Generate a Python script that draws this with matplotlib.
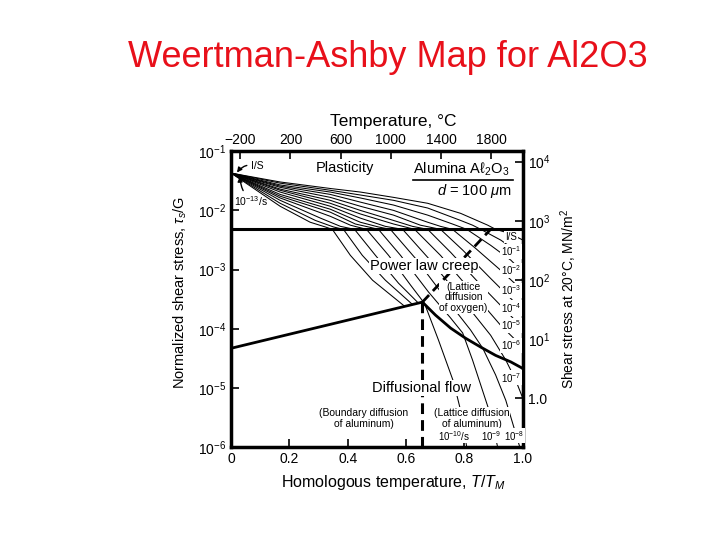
import matplotlib.pyplot as plt
from matplotlib.lines import Line2D
from matplotlib.ticker import FixedLocator, NullLocator

plt.rcParams['font.family'] = ['Liberation Sans', 'DejaVu Sans']
plt.rcParams['mathtext.fontset'] = 'custom'
plt.rcParams['mathtext.rm'] = 'Liberation Sans'
plt.rcParams['mathtext.it'] = 'Liberation Sans:italic'
plt.rcParams['mathtext.bf'] = 'Liberation Sans:bold'

TM = 2323.0   # melting point of alumina, K
G = 1.5e5     # shear modulus, MN/m^2

# field boundaries, x = T/TM, y = log10(tau_s/G)
plast_limit = -2.32
lower_x = [0.0, 0.656]
lower_y = [-4.33, -3.55]
curve_x = [0.656, 0.701, 0.753, 0.804, 0.856, 0.907, 0.959, 1.0]
curve_y = [-3.55, -3.77, -3.99, -4.16, -4.31, -4.45, -4.56, -4.67]
dash_x = [0.656, 0.890]
dash_y = [-3.55, -2.32]
vdash_x = [0.656, 0.656]
vdash_y = [-3.55, -6.0]

# strain-rate contours 1/s ... 1e-13/s, points (T/TM, log10 tau_s/G)
c00 = [(0, -1.37), (0.168, -1.52), (0.340, -1.63), (0.443, -1.69), (0.557, -1.78), (0.674, -1.88),
       (0.787, -2.05), (0.880, -2.25), (0.907, -2.32), (0.942, -2.37), (0.976, -2.44), (1.0, -2.50)]
c01 = [(0, -1.37), (0.168, -1.54), (0.340, -1.66), (0.443, -1.74), (0.557, -1.83), (0.674, -1.96),
       (0.787, -2.17), (0.828, -2.25), (0.856, -2.32), (0.924, -2.50), (1.0, -2.76)]
c02 = [(0, -1.37), (0.168, -1.57), (0.340, -1.69), (0.443, -1.79), (0.557, -1.91), (0.674, -2.08),
       (0.759, -2.23), (0.808, -2.32), (0.890, -2.59), (0.959, -2.84), (1.0, -3.04)]
c03 = [(0, -1.37), (0.168, -1.59), (0.340, -1.73), (0.443, -1.86), (0.557, -2.00), (0.674, -2.20),
       (0.718, -2.27), (0.759, -2.32), (0.838, -2.64), (0.924, -3.01), (1.0, -3.36)]
c04 = [(0, -1.37), (0.168, -1.61), (0.340, -1.78), (0.443, -1.93), (0.557, -2.08), (0.649, -2.25),
       (0.718, -2.32), (0.794, -2.67), (0.890, -3.15), (1.0, -3.69)]
c05 = [(0, -1.37), (0.168, -1.64), (0.340, -1.83), (0.443, -2.00), (0.557, -2.17), (0.622, -2.27),
       (0.674, -2.32), (0.753, -2.71), (0.856, -3.26), (1.0, -3.99)]
c06 = [(0, -1.37), (0.168, -1.66), (0.340, -1.88), (0.443, -2.06), (0.557, -2.23), (0.629, -2.32),
       (0.718, -2.76), (0.821, -3.35), (0.924, -3.94), (1.0, -4.31)]
c07 = [(0, -1.37), (0.168, -1.69), (0.340, -1.93), (0.443, -2.13), (0.529, -2.27), (0.588, -2.32),
       (0.677, -2.81), (0.780, -3.43), (0.890, -4.11), (0.942, -4.53), (0.976, -4.87), (1.0, -5.17)]
c08 = [(0, -1.37), (0.168, -1.73), (0.340, -1.98), (0.443, -2.20), (0.505, -2.28), (0.546, -2.32),
       (0.632, -2.81), (0.735, -3.48), (0.821, -4.02), (0.863, -4.33), (0.907, -4.78), (0.942, -5.21),
       (0.990, -6.0)]
c09 = [(0, -1.37), (0.168, -1.76), (0.340, -2.03), (0.426, -2.23), (0.471, -2.28), (0.505, -2.32),
       (0.581, -2.76), (0.677, -3.38), (0.753, -3.82), (0.794, -4.07), (0.828, -4.53), (0.856, -4.95),
       (0.890, -5.46), (0.914, -6.0)]
c10 = [(0, -1.37), (0.168, -1.79), (0.340, -2.10), (0.409, -2.25), (0.464, -2.32), (0.540, -2.76),
       (0.615, -3.26), (0.663, -3.57), (0.711, -4.19), (0.763, -4.90), (0.787, -5.38), (0.808, -6.0)]
c11 = [(0, -1.37), (0.168, -1.83), (0.306, -2.13), (0.375, -2.27), (0.423, -2.32), (0.495, -2.76),
       (0.574, -3.23), (0.643, -3.57)]
c12 = [(0, -1.37), (0.168, -1.88), (0.289, -2.17), (0.351, -2.28), (0.385, -2.32), (0.450, -2.76),
       (0.529, -3.18), (0.622, -3.59)]
c13 = [(0, -1.37), (0.168, -1.93), (0.271, -2.20), (0.323, -2.28), (0.347, -2.32), (0.409, -2.76),
       (0.485, -3.18), (0.595, -3.62)]
contours = [c00, c01, c02, c03, c04, c05, c06, c07, c08, c09, c10, c11, c12, c13]

# contour labels on the right edge (log10 tau_s/G)
right_labels = ['I/S', '10$^{-1}$', '10$^{-2}$', '10$^{-3}$', '10$^{-4}$', '10$^{-5}$', '10$^{-6}$', '10$^{-7}$']
right_label_y = [-2.45, -2.69, -3.01, -3.35, -3.65, -3.94, -4.28, -4.83]
bottom_labels = ['10$^{-10}$/s', '10$^{-9}$', '10$^{-8}$']
bottom_label_x = [0.763, 0.893, 0.969]

y_ticks = [1e-6, 1e-5, 1e-4, 1e-3, 1e-2, 1e-1]
y_ticklabels = ['10$^{-6}$', '10$^{-5}$', '10$^{-4}$', '10$^{-3}$', '10$^{-2}$', '10$^{-1}$']
x_ticks = [0, 0.2, 0.4, 0.6, 0.8, 1.0]
x_ticklabels = ['0', '0.2', '0.4', '0.6', '0.8', '1.0']
temp_ticks = [-200, 200, 600, 1000, 1400, 1800]
mpa_ticks = [1, 10, 100, 1e3, 1e4]
mpa_ticklabels = ['1.0', '10$^1$', '10$^2$', '10$^3$', '10$^4$']

fig = plt.figure(figsize=(7.2, 5.4), dpi=100)
ax = fig.add_axes([0.321, 0.172, 0.405, 0.548])

for c in contours:
    ax.plot([p[0] for p in c], [10 ** p[1] for p in c], color='k', lw=0.75, zorder=2)

ax.plot([0, 1], [10 ** plast_limit] * 2, color='k', lw=2.2, zorder=3)
ax.plot(lower_x, [10 ** v for v in lower_y], color='k', lw=2.0, zorder=3)
ax.plot(curve_x, [10 ** v for v in curve_y], color='k', lw=2.0, zorder=3)
ax.plot(dash_x, [10 ** v for v in dash_y], color='k', lw=2.0, ls=(0, (3.5, 2)), zorder=3)
ax.plot(vdash_x, [10 ** v for v in vdash_y], color='k', lw=2.2, ls=(0, (3.5, 2)), zorder=3)

ax.set_yscale('log')
ax.set_xlim(0, 1)
ax.set_ylim(1e-6, 1e-1)
ax.set_yticks(y_ticks)
ax.set_yticklabels(y_ticklabels)
ax.yaxis.set_minor_locator(NullLocator())
ax.set_xticks(x_ticks)
ax.set_xticklabels(x_ticklabels)
ax.tick_params(direction='in', length=6, width=1.2, labelsize=10)
for s in ax.spines.values():
    s.set_linewidth(2.5)

ax.set_xlabel('Homologous temperature, $T/T_M$', fontsize=11.5)
ax.xaxis.set_label_coords(0.555, -0.088)
ax.set_ylabel('Normalized shear stress, $\\tau_s$/G', fontsize=10.5)
ax.yaxis.set_label_coords(-0.145, 0.524)

top = ax.secondary_xaxis('top', functions=(lambda x: x * TM - 273, lambda c: (c + 273) / TM))
top.xaxis.set_major_locator(FixedLocator(temp_ticks))
top.tick_params(direction='in', length=6, width=1.2, labelsize=10, pad=3)
top.set_xlabel('Temperature, °C', fontsize=12.5, labelpad=5)
top.xaxis.label.set_x(0.555)

right = ax.secondary_yaxis('right', functions=(lambda y: y * G, lambda s: s / G))
right.yaxis.set_major_locator(FixedLocator(mpa_ticks))
right.yaxis.set_minor_locator(NullLocator())
right.set_yticklabels(mpa_ticklabels)
right.tick_params(direction='in', length=6, width=1.2, labelsize=10)
right.set_ylabel('Shear stress at 20°C, MN/m$^2$', fontsize=10, labelpad=6)

box = dict(facecolor='white', edgecolor='none', pad=0.5)
ax.text(0.392, 10 ** -1.29, 'Plasticity', fontsize=10.5, ha='center', va='center', zorder=5)
t_al = ax.text(0.79, 10 ** -1.31, 'Alumina Aℓ$_2$O$_3$', fontsize=10.5, ha='center', va='center', zorder=5)
ax.text(0.835, 10 ** -1.68, '$d$ = 100 $\\mu$m', fontsize=10.5, ha='center', va='center', zorder=5)
ax.text(0.663, 10 ** -2.94, 'Power law creep', fontsize=10.5, ha='center', va='center', bbox=box, zorder=5)
ax.text(0.797, 10 ** -3.47, '(Lattice\ndiffusion\nof oxygen)', fontsize=7.5, ha='center', va='center',
        linespacing=1.1, bbox=box, zorder=5)
ax.text(0.653, 10 ** -5.0, 'Diffusional flow', fontsize=10.5, ha='center', va='center', bbox=box, zorder=5)
ax.text(0.454, 10 ** -5.51, '(Boundary diffusion\nof aluminum)', fontsize=7.5, ha='center', va='center',
        linespacing=1.15, bbox=box, zorder=5)
ax.text(0.825, 10 ** -5.51, '(Lattice diffusion\nof aluminum)', fontsize=7.5, ha='center', va='center',
        linespacing=1.15, bbox=box, zorder=5)

for lab, y in zip(right_labels, right_label_y):
    ax.text(0.96, 10 ** y, lab, fontsize=7, ha='center', va='center', bbox=box, zorder=5)
for lab, x in zip(bottom_labels, bottom_label_x):
    ax.text(x, 10 ** -5.81, lab, fontsize=7, ha='center', va='center', bbox=box, zorder=5)

arrow = dict(arrowstyle='-|>', color='k', lw=1.0, mutation_scale=7, shrinkA=1, shrinkB=0)
ax.annotate('I/S', xy=(0.02, 10 ** -1.36), xytext=(0.068, 10 ** -1.25), fontsize=7.5, va='center',
            arrowprops=dict(arrow, connectionstyle='arc3,rad=0.35'), zorder=5)
ax.annotate('10$^{-13}$/s', xy=(0.03, 10 ** -1.43), xytext=(0.01, 10 ** -1.85), fontsize=7.5, va='center',
            arrowprops=dict(arrow, connectionstyle='arc3,rad=-0.2'), zorder=5)

fig.text(0.538, 0.894, 'Weertman-Ashby Map for Al2O3', color='#e8101a', fontsize=26, ha='center', va='center')

# underline under the material name
fig.canvas.draw()
bb = t_al.get_window_extent()
fig.add_artist(Line2D([bb.x0, bb.x1 + 3], [bb.y0 - 2, bb.y0 - 2], transform=None, color='k', lw=1.2))

fig.savefig('out.png', dpi=100)
